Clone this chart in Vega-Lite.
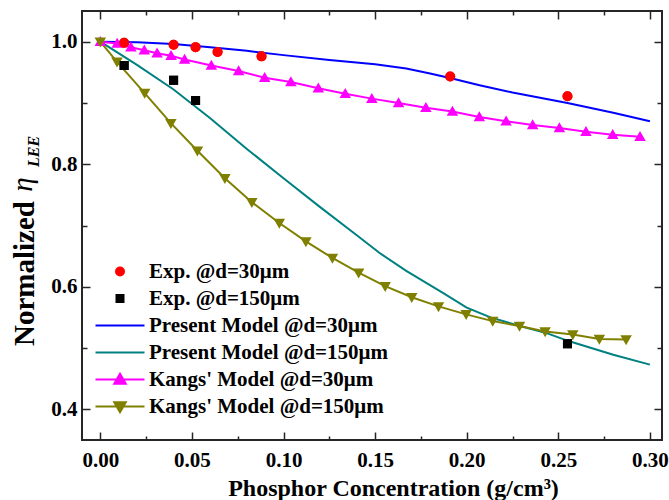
{
  "$schema": "https://vega.github.io/schema/vega-lite/v6.json",
  "width": 580,
  "height": 429,
  "autosize": {"type": "none"},
  "padding": {"left": 82, "top": 11, "right": 7, "bottom": 60},
  "background": "white",
  "config": {
    "view": {"stroke": "#262626", "strokeWidth": 2},
    "axis": {
      "grid": false,
      "domain": false,
      "tickColor": "#262626",
      "tickWidth": 1.5,
      "labelFont": "Liberation Serif",
      "labelFontWeight": "bold",
      "labelFontSize": 21,
      "labelColor": "#000000",
      "titleFont": "Liberation Serif",
      "titleFontWeight": "bold",
      "titleColor": "#000000"
    },
    "legend": {
      "labelFont": "Liberation Serif",
      "labelFontWeight": "bold",
      "labelFontSize": 21,
      "labelColor": "#000000",
      "labelLimit": 400
    }
  },
  "data": {
    "values": [
      {"series": "Exp. @d=30μm", "x": 0.013, "y": 0.998},
      {"series": "Exp. @d=30μm", "x": 0.040, "y": 0.995},
      {"series": "Exp. @d=30μm", "x": 0.052, "y": 0.991},
      {"series": "Exp. @d=30μm", "x": 0.064, "y": 0.983},
      {"series": "Exp. @d=30μm", "x": 0.088, "y": 0.976},
      {"series": "Exp. @d=30μm", "x": 0.191, "y": 0.943},
      {"series": "Exp. @d=30μm", "x": 0.255, "y": 0.911},
      {"series": "Exp. @d=150μm", "x": 0.013, "y": 0.961},
      {"series": "Exp. @d=150μm", "x": 0.040, "y": 0.937},
      {"series": "Exp. @d=150μm", "x": 0.052, "y": 0.904},
      {"series": "Exp. @d=150μm", "x": 0.255, "y": 0.507},
      {"series": "Present Model @d=30μm", "x": 0, "y": 1.0},
      {"series": "Present Model @d=30μm", "x": 0.02, "y": 0.999},
      {"series": "Present Model @d=30μm", "x": 0.04, "y": 0.996},
      {"series": "Present Model @d=30μm", "x": 0.06, "y": 0.991},
      {"series": "Present Model @d=30μm", "x": 0.08, "y": 0.985},
      {"series": "Present Model @d=30μm", "x": 0.10, "y": 0.978},
      {"series": "Present Model @d=30μm", "x": 0.125, "y": 0.970},
      {"series": "Present Model @d=30μm", "x": 0.15, "y": 0.963},
      {"series": "Present Model @d=30μm", "x": 0.167, "y": 0.956},
      {"series": "Present Model @d=30μm", "x": 0.18, "y": 0.948},
      {"series": "Present Model @d=30μm", "x": 0.192, "y": 0.940},
      {"series": "Present Model @d=30μm", "x": 0.207, "y": 0.929},
      {"series": "Present Model @d=30μm", "x": 0.225, "y": 0.917},
      {"series": "Present Model @d=30μm", "x": 0.255, "y": 0.900},
      {"series": "Present Model @d=30μm", "x": 0.28, "y": 0.884},
      {"series": "Present Model @d=30μm", "x": 0.30, "y": 0.870},
      {"series": "Present Model @d=150μm", "x": 0, "y": 1.0},
      {"series": "Present Model @d=150μm", "x": 0.02, "y": 0.962},
      {"series": "Present Model @d=150μm", "x": 0.04, "y": 0.922},
      {"series": "Present Model @d=150μm", "x": 0.06, "y": 0.875},
      {"series": "Present Model @d=150μm", "x": 0.08, "y": 0.825},
      {"series": "Present Model @d=150μm", "x": 0.10, "y": 0.777},
      {"series": "Present Model @d=150μm", "x": 0.12, "y": 0.730},
      {"series": "Present Model @d=150μm", "x": 0.14, "y": 0.684},
      {"series": "Present Model @d=150μm", "x": 0.153, "y": 0.654},
      {"series": "Present Model @d=150μm", "x": 0.167, "y": 0.626},
      {"series": "Present Model @d=150μm", "x": 0.187, "y": 0.590},
      {"series": "Present Model @d=150μm", "x": 0.20, "y": 0.566},
      {"series": "Present Model @d=150μm", "x": 0.213, "y": 0.550},
      {"series": "Present Model @d=150μm", "x": 0.229, "y": 0.536},
      {"series": "Present Model @d=150μm", "x": 0.244, "y": 0.524},
      {"series": "Present Model @d=150μm", "x": 0.256, "y": 0.511},
      {"series": "Present Model @d=150μm", "x": 0.28, "y": 0.489},
      {"series": "Present Model @d=150μm", "x": 0.30, "y": 0.473},
      {"series": "Kangs' Model @d=30μm", "x": 0, "y": 1.0},
      {"series": "Kangs' Model @d=30μm", "x": 0.0092, "y": 0.997},
      {"series": "Kangs' Model @d=30μm", "x": 0.0167, "y": 0.991},
      {"series": "Kangs' Model @d=30μm", "x": 0.024, "y": 0.986},
      {"series": "Kangs' Model @d=30μm", "x": 0.031, "y": 0.981},
      {"series": "Kangs' Model @d=30μm", "x": 0.0386, "y": 0.977},
      {"series": "Kangs' Model @d=30μm", "x": 0.046, "y": 0.971},
      {"series": "Kangs' Model @d=30μm", "x": 0.0606, "y": 0.961},
      {"series": "Kangs' Model @d=30μm", "x": 0.0755, "y": 0.952},
      {"series": "Kangs' Model @d=30μm", "x": 0.0897, "y": 0.941},
      {"series": "Kangs' Model @d=30μm", "x": 0.104, "y": 0.934},
      {"series": "Kangs' Model @d=30μm", "x": 0.119, "y": 0.924},
      {"series": "Kangs' Model @d=30μm", "x": 0.1337, "y": 0.915},
      {"series": "Kangs' Model @d=30μm", "x": 0.1482, "y": 0.907},
      {"series": "Kangs' Model @d=30μm", "x": 0.1628, "y": 0.900},
      {"series": "Kangs' Model @d=30μm", "x": 0.1777, "y": 0.892},
      {"series": "Kangs' Model @d=30μm", "x": 0.1922, "y": 0.886},
      {"series": "Kangs' Model @d=30μm", "x": 0.2069, "y": 0.877},
      {"series": "Kangs' Model @d=30μm", "x": 0.2215, "y": 0.870},
      {"series": "Kangs' Model @d=30μm", "x": 0.236, "y": 0.864},
      {"series": "Kangs' Model @d=30μm", "x": 0.2506, "y": 0.859},
      {"series": "Kangs' Model @d=30μm", "x": 0.2651, "y": 0.853},
      {"series": "Kangs' Model @d=30μm", "x": 0.2797, "y": 0.848},
      {"series": "Kangs' Model @d=30μm", "x": 0.2946, "y": 0.845},
      {"series": "Kangs' Model @d=150μm", "x": 0, "y": 1.0},
      {"series": "Kangs' Model @d=150μm", "x": 0.0091, "y": 0.967},
      {"series": "Kangs' Model @d=150μm", "x": 0.0242, "y": 0.916},
      {"series": "Kangs' Model @d=150μm", "x": 0.0385, "y": 0.867},
      {"series": "Kangs' Model @d=150μm", "x": 0.053, "y": 0.822},
      {"series": "Kangs' Model @d=150μm", "x": 0.068, "y": 0.777},
      {"series": "Kangs' Model @d=150μm", "x": 0.0827, "y": 0.738},
      {"series": "Kangs' Model @d=150μm", "x": 0.0977, "y": 0.704},
      {"series": "Kangs' Model @d=150μm", "x": 0.1122, "y": 0.674},
      {"series": "Kangs' Model @d=150μm", "x": 0.1267, "y": 0.647},
      {"series": "Kangs' Model @d=150μm", "x": 0.141, "y": 0.623},
      {"series": "Kangs' Model @d=150μm", "x": 0.1555, "y": 0.601},
      {"series": "Kangs' Model @d=150μm", "x": 0.170, "y": 0.583},
      {"series": "Kangs' Model @d=150μm", "x": 0.1846, "y": 0.568},
      {"series": "Kangs' Model @d=150μm", "x": 0.1997, "y": 0.555},
      {"series": "Kangs' Model @d=150μm", "x": 0.2142, "y": 0.544},
      {"series": "Kangs' Model @d=150μm", "x": 0.2288, "y": 0.536},
      {"series": "Kangs' Model @d=150μm", "x": 0.2428, "y": 0.527},
      {"series": "Kangs' Model @d=150μm", "x": 0.2579, "y": 0.522},
      {"series": "Kangs' Model @d=150μm", "x": 0.2724, "y": 0.515},
      {"series": "Kangs' Model @d=150μm", "x": 0.287, "y": 0.514}
    ]
  },
  "resolve": {"axis": {"x": "independent", "y": "independent"}},
  "layer": [
    {
      "transform": [{"filter": {"field": "series", "oneOf": ["Exp. @d=30μm", "Exp. @d=150μm"]}}],
      "mark": {"type": "point", "filled": true, "opacity": 1, "size": 100, "strokeWidth": 2},
      "encoding": {
        "x": {"field": "x", "type": "quantitative", "scale": {"domain": [-0.01, 0.3066], "nice": false, "zero": false}, "axis": null},
        "y": {"field": "y", "type": "quantitative", "scale": {"domain": [0.35, 1.05], "nice": false, "zero": false},
          "axis": {"orient": "left", "ticks": false, "labels": false, "domain": false, "title": "LEE", "titleFontSize": 16, "titleFontStyle": "italic", "titleFontWeight": "bold", "titleX": -44, "titleY": 140, "titleBaseline": "alphabetic"}},
        "color": {"field": "series", "type": "nominal",
          "scale": {"domain": ["Exp. @d=30μm", "Exp. @d=150μm", "Present Model @d=30μm", "Present Model @d=150μm", "Kangs' Model @d=30μm", "Kangs' Model @d=150μm"],
                    "range": ["#ff0000", "#000000", "#0000ff", "#008080", "#ff00ff", "#808000"]},
          "legend": {"orient": "none", "legendX": 27.5, "legendY": 250, "title": null, "padding": 0, "labelOffset": 18.5, "rowPadding": 5, "symbolSize": 100, "symbolStrokeWidth": 2}},
        "stroke": {"field": "series", "type": "nominal",
          "scale": {"domain": ["Exp. @d=30μm", "Exp. @d=150μm", "Present Model @d=30μm", "Present Model @d=150μm", "Kangs' Model @d=30μm", "Kangs' Model @d=150μm"],
                    "range": ["#ff0000", "#000000", "#0000ff", "#008080", "#ff00ff", "#808000"]},
          "legend": {"orient": "none", "legendX": 27.5, "legendY": 250, "title": null, "padding": 0, "labelOffset": 18.5, "rowPadding": 5, "symbolSize": 100, "symbolStrokeWidth": 2}},
        "shape": {"field": "series", "type": "nominal",
          "scale": {"domain": ["Exp. @d=30μm", "Exp. @d=150μm", "Present Model @d=30μm", "Present Model @d=150μm", "Kangs' Model @d=30μm", "Kangs' Model @d=150μm"],
                    "range": ["M-0.8,0A0.8,0.8,0,1,0,0.8,0A0.8,0.8,0,1,0,-0.8,0Z", "M-0.7,-0.7H0.7V0.7H-0.7Z", "M-4.9,0H4.9", "M-4.9,0H4.9", "M-4.9,0H4.9M0,-1.15L1.15,0.85L-1.15,0.85Z", "M-4.9,0H4.9M0,1.15L1.15,-0.85L-1.15,-0.85Z"]},
          "legend": {"orient": "none", "legendX": 27.5, "legendY": 250, "title": null, "padding": 0, "labelOffset": 18.5, "rowPadding": 5, "symbolSize": 100, "symbolStrokeWidth": 2}}
      }
    },
    {
      "transform": [{"filter": {"field": "series", "equal": "Present Model @d=30μm"}}],
      "mark": {"type": "line", "strokeWidth": 2, "color": "#0000ff"},
      "encoding": {
        "x": {"field": "x", "type": "quantitative", "scale": {"domain": [-0.01, 0.3066], "nice": false, "zero": false},
          "axis": {"orient": "bottom", "values": [0, 0.05, 0.1, 0.15, 0.2, 0.25, 0.3], "format": ".2f", "tickSize": -8, "labelPadding": 17, "labelFlush": false, "labelOverlap": false,
            "title": "Phosphor Concentration (g/cm³)", "titleFontSize": 24, "titleX": 311, "titleY": 55, "titleBaseline": "alphabetic"}},
        "y": {"field": "y", "type": "quantitative", "scale": {"domain": [0.35, 1.05], "nice": false, "zero": false},
          "axis": {"orient": "left", "values": [0.4, 0.6, 0.8, 1.0], "format": ".1f", "tickSize": -8, "labelPadding": 13, "labelOverlap": false,
            "title": "Normalized", "titleFontSize": 29, "titleX": -49, "titleY": 262, "titleBaseline": "alphabetic"}}
      }
    },
    {
      "transform": [{"filter": {"field": "series", "equal": "Present Model @d=150μm"}}],
      "mark": {"type": "line", "strokeWidth": 2, "color": "#008080"},
      "encoding": {
        "x": {"field": "x", "type": "quantitative", "scale": {"domain": [-0.01, 0.3066], "nice": false, "zero": false},
          "axis": {"orient": "bottom", "values": [0.025, 0.075, 0.125, 0.175, 0.225, 0.275], "tickSize": -4, "labels": false, "title": null}},
        "y": {"field": "y", "type": "quantitative", "scale": {"domain": [0.35, 1.05], "nice": false, "zero": false},
          "axis": {"orient": "left", "values": [0.5, 0.7, 0.9], "tickSize": -5, "labels": false, "title": null}}
      }
    },
    {
      "transform": [{"filter": {"field": "series", "equal": "Kangs' Model @d=30μm"}}],
      "mark": {"type": "line", "strokeWidth": 2, "color": "#ff00ff"},
      "encoding": {
        "x": {"field": "x", "type": "quantitative", "scale": {"domain": [-0.01, 0.3066], "nice": false, "zero": false},
          "axis": {"orient": "top", "values": [0, 0.05, 0.1, 0.15, 0.2, 0.25, 0.3], "tickSize": -8, "labels": false, "title": null}},
        "y": {"field": "y", "type": "quantitative", "scale": {"domain": [0.35, 1.05], "nice": false, "zero": false},
          "axis": {"orient": "right", "values": [0.4, 0.6, 0.8, 1.0], "tickSize": -8, "labels": false, "title": null}}
      }
    },
    {
      "transform": [{"filter": {"field": "series", "equal": "Kangs' Model @d=150μm"}}],
      "mark": {"type": "line", "strokeWidth": 2, "color": "#808000"},
      "encoding": {
        "x": {"field": "x", "type": "quantitative", "scale": {"domain": [-0.01, 0.3066], "nice": false, "zero": false},
          "axis": {"orient": "top", "values": [0.025, 0.075, 0.125, 0.175, 0.225, 0.275], "tickSize": -4, "labels": false, "title": null}},
        "y": {"field": "y", "type": "quantitative", "scale": {"domain": [0.35, 1.05], "nice": false, "zero": false},
          "axis": {"orient": "right", "values": [0.5, 0.7, 0.9], "tickSize": -5, "labels": false, "title": null}}
      }
    },
    {
      "transform": [{"filter": {"field": "series", "oneOf": ["Kangs' Model @d=30μm", "Kangs' Model @d=150μm"]}}],
      "mark": {"type": "point", "filled": true, "opacity": 1, "size": 100, "strokeWidth": 0},
      "encoding": {
        "x": {"field": "x", "type": "quantitative", "scale": {"domain": [-0.01, 0.3066], "nice": false, "zero": false}, "axis": null},
        "y": {"field": "y", "type": "quantitative", "scale": {"domain": [0.35, 1.05], "nice": false, "zero": false},
          "axis": {"orient": "left", "ticks": false, "labels": false, "domain": false, "title": "η", "titleFontSize": 29, "titleFontStyle": "italic", "titleFontWeight": "normal", "titleX": -51, "titleY": 173, "titleBaseline": "alphabetic"}},
        "color": {"field": "series", "type": "nominal", "legend": null},
        "shape": {"field": "series", "type": "nominal", "legend": null}
      }
    },
    {
      "transform": [{"filter": {"field": "series", "oneOf": ["Exp. @d=30μm", "Exp. @d=150μm"]}}],
      "mark": {"type": "point", "filled": true, "opacity": 1, "size": 100, "strokeWidth": 2},
      "encoding": {
        "x": {"field": "x", "type": "quantitative", "scale": {"domain": [-0.01, 0.3066], "nice": false, "zero": false}, "axis": null},
        "y": {"field": "y", "type": "quantitative", "scale": {"domain": [0.35, 1.05], "nice": false, "zero": false}, "axis": null},
        "color": {"field": "series", "type": "nominal", "legend": null},
        "stroke": {"field": "series", "type": "nominal", "legend": null},
        "shape": {"field": "series", "type": "nominal", "legend": null}
      }
    }
  ]
}
